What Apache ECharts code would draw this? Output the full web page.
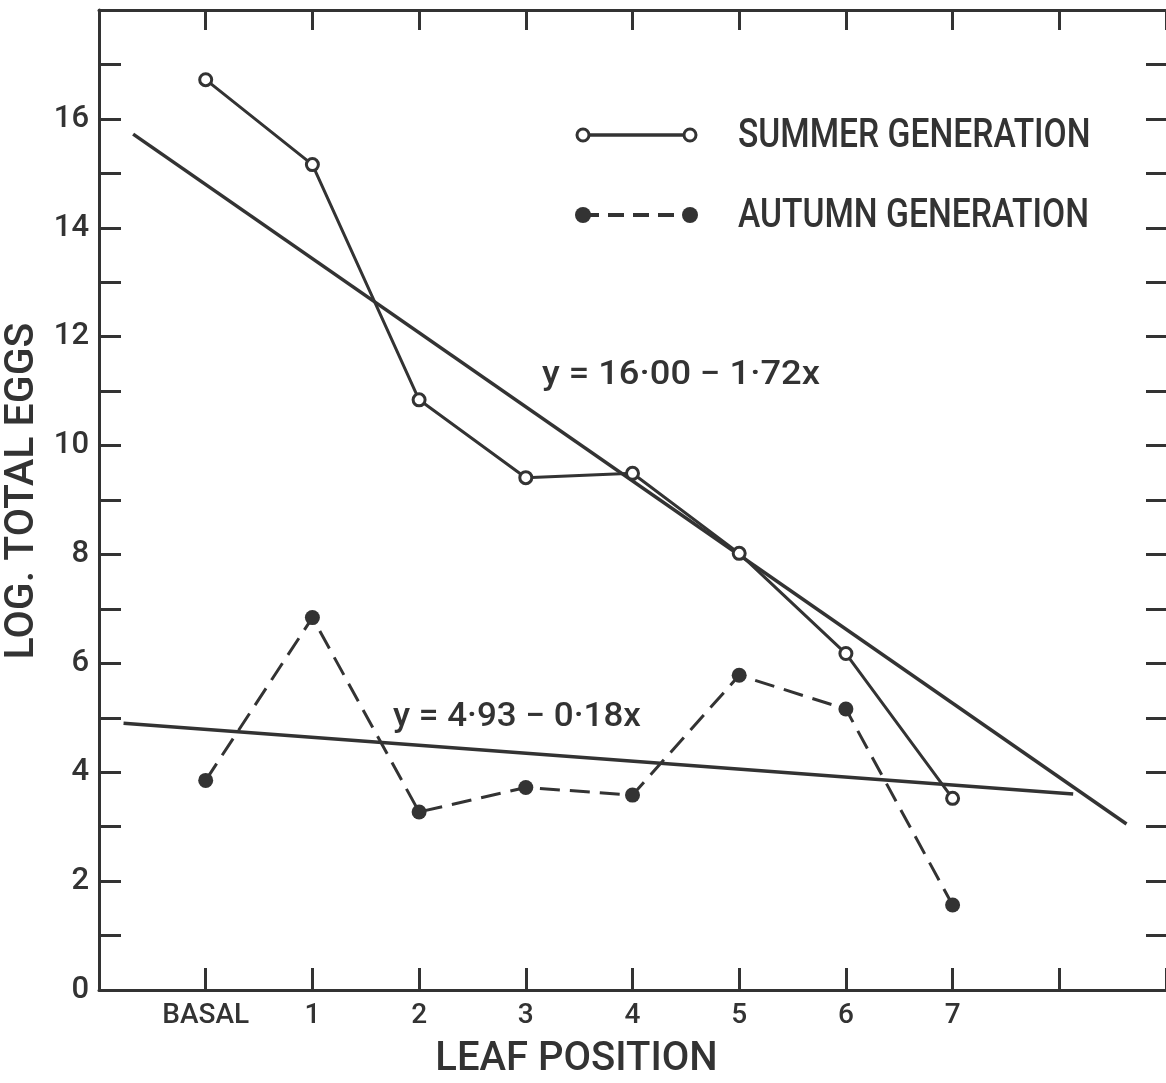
<!DOCTYPE html>
<html>
<head>
<meta charset="utf-8">
<script src="https://cdn.jsdelivr.net/npm/echarts@6/dist/echarts.min.js"></script>
<style>
  html, body { margin: 0; padding: 0; background: #fff; }
  #chart1 { width: 1166px; height: 1083px; }
</style>
</head>
<body>
<div id="chart1"></div>
<script>
// data
var leafPos = [0, 1, 2, 3, 4, 5, 6, 7];
var leafLabels = ['BASAL', '1', '2', '3', '4', '5', '6', '7'];
var summerEggs = [16.72, 15.16, 10.84, 9.41, 9.49, 8.02, 6.18, 3.52];
var autumnEggs = [3.85, 6.84, 3.27, 3.72, 3.58, 5.78, 5.16, 1.56];
// fitted lines, drawn ends
var summerFitX = [-0.68, 8.63];
var summerFitY = [15.72, 3.05];
var autumnFitX = [-0.77, 8.13];
var autumnFitY = [4.90, 3.60];
var yTickLabels = [0, 2, 4, 6, 8, 10, 12, 14, 16];

var INK = '#333333';
var FONT = 'Roboto, "DejaVu Sans", sans-serif';
var WEIGHT = 500;

function pairs(xs, ys) {
  return xs.map(function (x, i) { return [x, ys[i]]; });
}

var dom = document.getElementById('chart1');
var myChart = echarts.init(dom, null, { renderer: 'canvas' });

var option;

option = {
  animation: false,
  backgroundColor: '#ffffff',
  grid: {
    left: 99,
    right: 0,
    top: 10,
    bottom: 93,
    containLabel: false,
    outerBoundsMode: 'none'
  },
  xAxis: [
    {
      type: 'value',
      position: 'bottom',
      min: -1,
      max: 9,
      interval: 1,
      splitLine: { show: false },
      axisLine: { onZero: false, lineStyle: { color: INK, width: 3 } },
      axisTick: { inside: true, length: 22, lineStyle: { color: INK, width: 3 } },
      axisLabel: {
        margin: 12,
        color: INK,
        fontSize: 28,
        fontWeight: WEIGHT,
        fontFamily: FONT,
        formatter: function (v) {
          var i = leafPos.indexOf(v);
          return i >= 0 ? leafLabels[i] : '';
        }
      },
      name: 'LEAF POSITION',
      nameLocation: 'middle',
      nameGap: 50,
      nameTextStyle: {
        color: INK,
        fontSize: 40,
        fontWeight: WEIGHT,
        fontFamily: FONT,
        padding: [0, 112, 0, 0]
      }
    },
    {
      type: 'value',
      position: 'top',
      min: -1,
      max: 9,
      interval: 1,
      splitLine: { show: false },
      axisLine: { onZero: false, lineStyle: { color: INK, width: 3 } },
      axisTick: { inside: true, length: 20, lineStyle: { color: INK, width: 3 } },
      axisLabel: { show: false }
    }
  ],
  yAxis: [
    {
      type: 'value',
      position: 'left',
      min: 0,
      max: 18,
      interval: 1,
      splitLine: { show: false },
      axisLine: { onZero: false, lineStyle: { color: INK, width: 3 } },
      axisTick: { inside: true, length: 22, lineStyle: { color: INK, width: 3 } },
      axisLabel: {
        margin: 10,
        color: INK,
        fontSize: 31,
        fontWeight: WEIGHT,
        fontFamily: FONT,
        formatter: function (v) {
          return yTickLabels.indexOf(v) >= 0 ? String(v) : '';
        }
      },
      name: 'LOG. TOTAL EGGS',
      nameLocation: 'middle',
      nameRotate: 90,
      nameGap: 52,
      nameTextStyle: {
        color: INK,
        fontSize: 41,
        fontWeight: WEIGHT,
        fontFamily: FONT,
        padding: [0, 0, 0, 18]
      }
    },
    {
      type: 'value',
      position: 'right',
      min: 0,
      max: 18,
      interval: 1,
      splitLine: { show: false },
      axisLine: { show: false, onZero: false },
      axisTick: { show: true, inside: true, length: 20, lineStyle: { color: INK, width: 3 } },
      axisLabel: { show: false }
    }
  ],
  graphic: [
    // legend
    { type: 'line', shape: { x1: 583, y1: 135, x2: 690, y2: 135 }, style: { stroke: INK, lineWidth: 3.5 } },
    { type: 'circle', shape: { cx: 583, cy: 135, r: 6 }, style: { fill: '#fff', stroke: INK, lineWidth: 3 } },
    { type: 'circle', shape: { cx: 690, cy: 135, r: 6 }, style: { fill: '#fff', stroke: INK, lineWidth: 3 } },
    { type: 'text', x: 738, y: 137, scaleX: 0.84, style: { text: 'SUMMER GENERATION', fill: INK, font: WEIGHT + ' 40px ' + FONT, verticalAlign: 'middle' } },
    { type: 'line', shape: { x1: 583, y1: 215, x2: 690, y2: 215 }, style: { stroke: INK, lineWidth: 4, lineDash: [16, 9] } },
    { type: 'circle', shape: { cx: 583, cy: 215, r: 8 }, style: { fill: INK } },
    { type: 'circle', shape: { cx: 690, cy: 215, r: 8 }, style: { fill: INK } },
    { type: 'text', x: 738, y: 217, scaleX: 0.84, style: { text: 'AUTUMN GENERATION', fill: INK, font: WEIGHT + ' 40px ' + FONT, verticalAlign: 'middle' } },
    // fit equations
    { type: 'text', x: 542, y: 376, scaleX: 1.1, style: { text: 'y = 16·00 − 1·72x', fill: INK, font: WEIGHT + ' 33px ' + FONT, verticalAlign: 'middle' } },
    { type: 'text', x: 393, y: 718, scaleX: 1.06, style: { text: 'y = 4·93 − 0·18x', fill: INK, font: WEIGHT + ' 33px ' + FONT, verticalAlign: 'middle' } }
  ],
  series: [
    {
      name: 'summer fit',
      type: 'line',
      data: pairs(summerFitX, summerFitY),
      showSymbol: false,
      lineStyle: { color: INK, width: 3.5 },
      z: 2
    },
    {
      name: 'autumn fit',
      type: 'line',
      data: pairs(autumnFitX, autumnFitY),
      showSymbol: false,
      lineStyle: { color: INK, width: 3.5 },
      z: 2
    },
    {
      name: 'SUMMER GENERATION',
      type: 'line',
      data: pairs(leafPos, summerEggs),
      symbol: 'circle',
      symbolSize: 12,
      itemStyle: { color: '#ffffff', borderColor: INK, borderWidth: 3 },
      lineStyle: { color: INK, width: 3 },
      z: 3
    },
    {
      name: 'AUTUMN GENERATION',
      type: 'line',
      data: pairs(leafPos, autumnEggs),
      symbol: 'circle',
      symbolSize: 15,
      itemStyle: { color: INK },
      lineStyle: { color: INK, width: 3, type: [20, 10] },
      z: 3
    }
  ]
};

if (option && typeof option === 'object') {
  myChart.setOption(option);
}

window.addEventListener('resize', myChart.resize);
</script>
</body>
</html>
